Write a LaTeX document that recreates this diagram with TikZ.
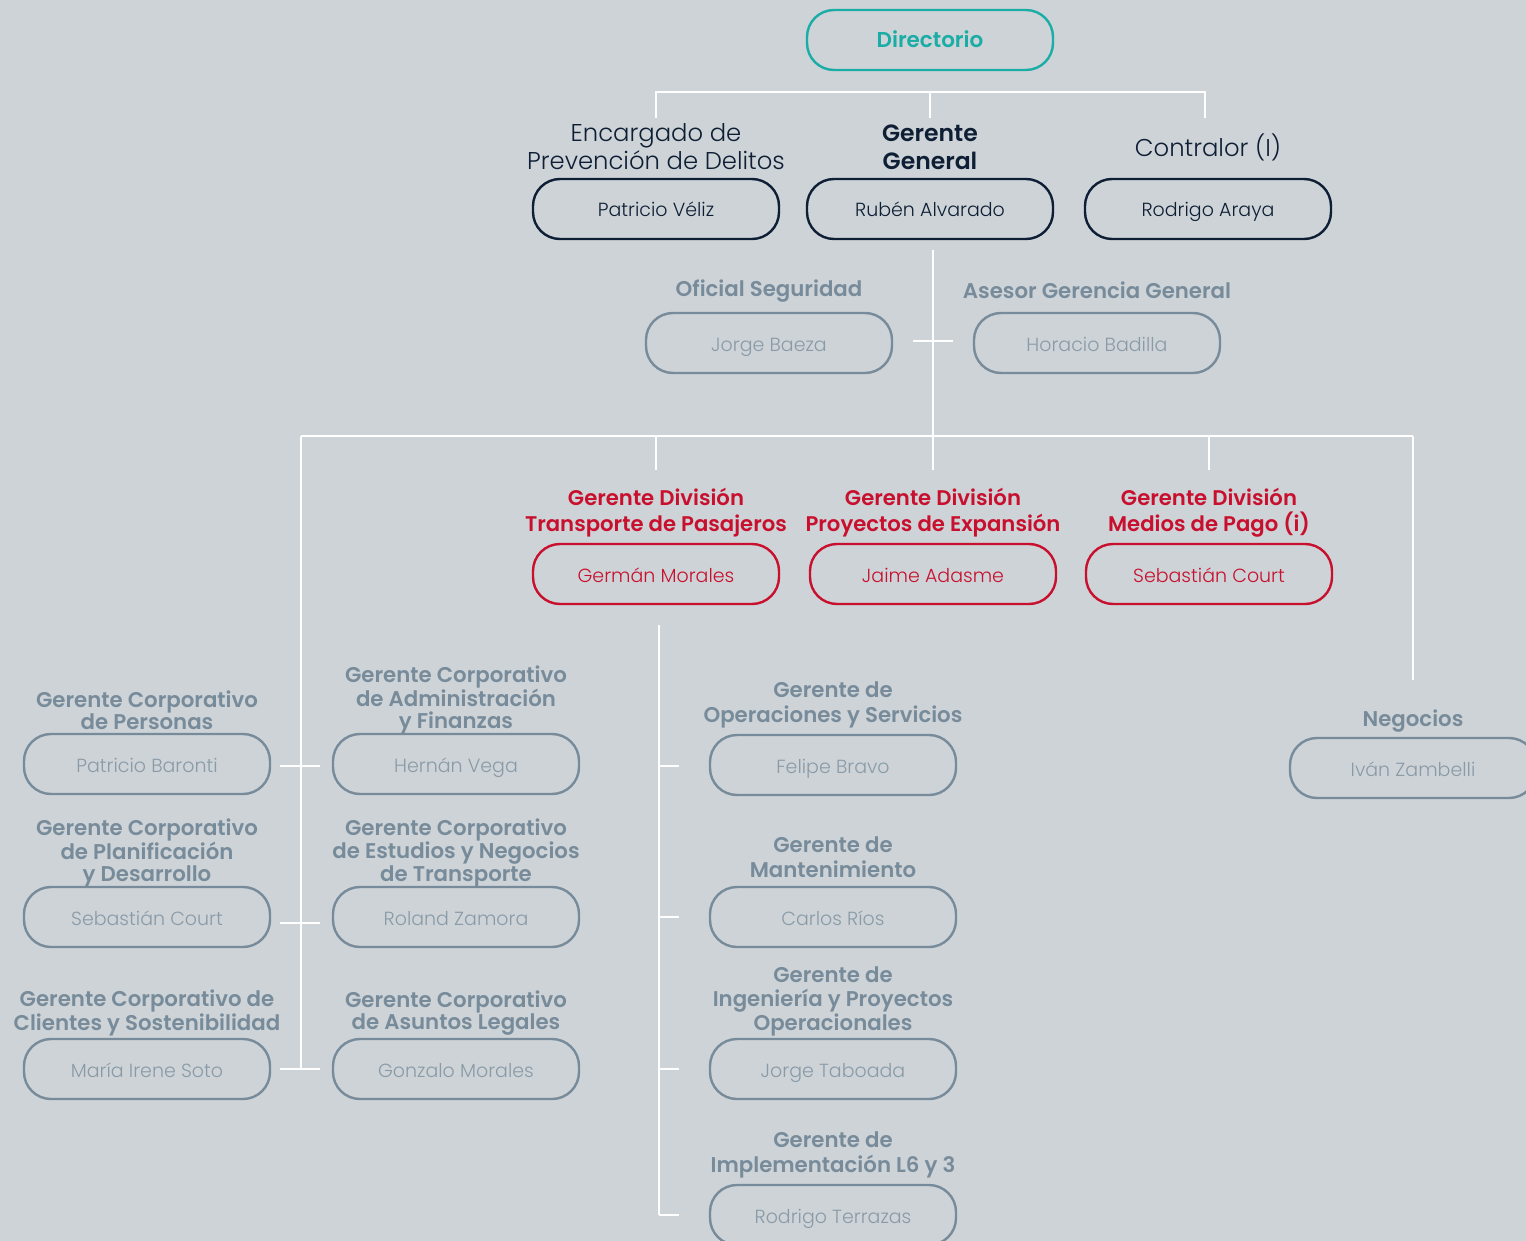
\documentclass[tikz,border=0pt]{standalone}
\usepackage{fontspec}
\setmainfont{Poppins}[BoldFont={Poppins SemiBold}]
\newfontfamily\lightf{Poppins Light}
\definecolor{bg}{HTML}{CDD3D7}
\definecolor{navy}{HTML}{0E1F35}
\definecolor{teal}{HTML}{19ADA5}
\definecolor{redc}{HTML}{C8102E}
\definecolor{grayc}{HTML}{778B9A}
\definecolor{grayn}{HTML}{8A9BA7}
\begin{document}
\begin{tikzpicture}[x=1pt,y=-1pt,
  bx/.style={draw, rounded corners=27pt, minimum width=246pt, minimum height=60pt, line width=2.4pt, inner sep=0pt, text height=17pt, text depth=1pt, font=\fontsize{19}{19}\selectfont\lightf},
  navybox/.style={bx, draw=navy, text=navy},
  tealbox/.style={bx, draw=teal, text=teal, font=\fontsize{21.5}{21.5}\selectfont\bfseries},
  redbox/.style={bx, draw=redc, text=redc},
  graybox/.style={bx, draw=grayc, text=grayn},
  ttl/.style={align=center, inner sep=0pt},
  navyttl/.style={ttl, text=navy, font=\fontsize{24.3}{28}\selectfont\lightf},
  navybttl/.style={ttl, text=navy, font=\fontsize{23.5}{28}\selectfont\bfseries},
  redttl/.style={ttl, text=redc, font=\fontsize{21.2}{26}\selectfont\bfseries},
  grayttl/.style={ttl, text=grayc, font=\fontsize{21.3}{21.5}\selectfont\bfseries},
  graymttl/.style={ttl, text=grayc, font=\fontsize{21.3}{25}\selectfont\bfseries},
  ln/.style={draw=white, line width=1.3pt}
]
\useasboundingbox (0,0) rectangle (1526,1241);
\clip (0,0) rectangle (1526,1241);
\fill[bg] (0,0) rectangle (1526,1241);

% ---- level 0
\node[tealbox] (dir) at (930,40) {Directorio};

% ---- level 1
\node[navyttl] (tEnc) at (656,147) {Encargado de\\Prevención de Delitos};
\node[navybttl] (tGG) at (930,147) {Gerente\\General};
\node[navyttl] (tCon) at (1208,147) {Contralor (I)};
\node[navybox] (pv) at (656,209) {Patricio Véliz};
\node[navybox] (ra) at (930,209) {Rubén Alvarado};
\node[navybox] (rar) at (1208,209) {Rodrigo Araya};

\coordinate (a1) at (656,118);
\coordinate (a2) at (930,118);
\coordinate (a3) at (1205,118);
\draw[ln] (a1) -- (a1 |- 0,92) -- (a3 |- 0,92) -- (a3);
\draw[ln] (a2) -- (a2 |- 0,92);

% ---- advisors
\node[grayttl] (tOf) at (769,291) {Oficial Seguridad};
\node[grayttl] (tAs) at (1097,290) {Asesor Gerencia General};
\node[graybox] (jb) at (769,343) {Jorge Baeza};
\node[graybox] (hb) at (1097,343) {Horacio Badilla};

\coordinate (gtop) at (933,250);
\coordinate (gbot) at (933,470);
\draw[ln] (gtop) -- (gbot);
\coordinate (sL) at (913,341);
\coordinate (sR) at (953,341);
\draw[ln] (sL) -- (sR);

% ---- main bus
\coordinate (bL) at (301,436);
\coordinate (bR) at (1413,436);
\draw[ln] (bL) -- (bR);
\coordinate (d1) at (656,470);
\coordinate (d3) at (1209,470);
\draw[ln] (d1) -- (d1 |- bL);
\draw[ln] (d3) -- (d3 |- bL);
\coordinate (neg) at (1413,680);
\coordinate (trunkL) at (301,1069);
\draw[ln] (bR) -- (neg);
\draw[ln] (bL) -- (trunkL);

% ---- divisions
\node[redttl] (tTP) at (656,513) {Gerente División\\Transporte de Pasajeros};
\node[redttl] (tPE) at (933,513) {Gerente División\\Proyectos de Expansión};
\node[redttl] (tMP) at (1209,513) {Gerente División\\Medios de Pago (i)};
\node[redbox] (gm) at (656,574) {Germán Morales};
\node[redbox] (jad) at (933,574) {Jaime Adasme};
\node[redbox] (sc) at (1209,574) {Sebastián Court};

% ---- Negocios
\node[grayttl] (tNeg) at (1413,721) {Negocios};
\node[graybox] (iz) at (1413,768) {Iván Zambelli};

% ---- corporate managers (left)
\node[grayttl] (tPer) at (147,710) {Gerente Corporativo\\de Personas};
\node[graybox] (pb) at (147,764) {Patricio Baronti};
\node[grayttl] (tAdm) at (456,700) {Gerente Corporativo\\de Administración\\y Finanzas};
\node[graybox] (hv) at (456,764) {Hernán Vega};

\node[grayttl] (tPla) at (147,853) {Gerente Corporativo\\de Planificación\\y Desarrollo};
\node[graybox] (scc) at (147,917) {Sebastián Court};
\node[grayttl] (tEst) at (456,853) {Gerente Corporativo\\de Estudios y Negocios\\de Transporte};
\node[graybox] (rz) at (456,917) {Roland Zamora};

\node[grayttl] (tCli) at (147,1013) {Gerente Corporativo de\\Clientes y Sostenibilidad};
\node[graybox] (mis) at (147,1069) {María Irene Soto};
\node[grayttl] (tLeg) at (456,1013) {Gerente Corporativo\\de Asuntos Legales};
\node[graybox] (gzm) at (456,1069) {Gonzalo Morales};

\foreach \yy/\nm in {766/r1, 923/r2, 1069/r3}{
  \coordinate (\nm L) at (280,\yy);
  \coordinate (\nm R) at (320,\yy);
  \draw[ln] (\nm L) -- (\nm R);
}

% ---- operations column
\coordinate (oTop) at (659,625);
\coordinate (oBot) at (659,1215);
\draw[ln] (oTop) -- (oBot);
\foreach \yy/\nm in {766/o1, 917/o2, 1069/o3, 1215/o4}{
  \coordinate (\nm) at (679,\yy);
  \draw[ln] (\nm) -- (\nm -| oTop);
}

\node[graymttl] (tOp) at (833,705) {Gerente de\\Operaciones y Servicios};
\node[graybox] (fb) at (833,765) {Felipe Bravo};
\node[graymttl] (tMan) at (833,857) {Gerente de\\Mantenimiento};
\node[graybox] (cr) at (833,917) {Carlos Ríos};
\node[graymttl, font=\fontsize{21.3}{24}\selectfont\bfseries] (tIng) at (833,1001) {Gerente de\\Ingeniería y Proyectos\\Operacionales};
\node[graybox] (jt) at (833,1069) {Jorge Taboada};
\node[graymttl] (tImp) at (833,1155) {Gerente de\\Implementación L6 y 3};
\node[graybox] (rt) at (833,1215) {Rodrigo Terrazas};
\end{tikzpicture}
\end{document}
